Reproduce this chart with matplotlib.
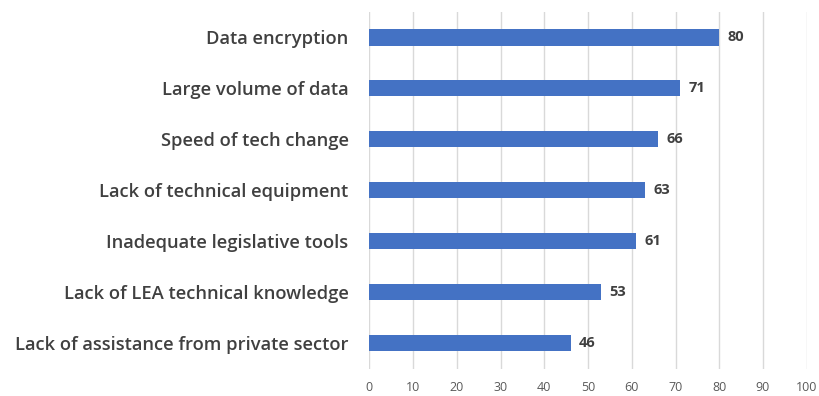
import matplotlib.pyplot as plt

plt.rcParams['font.family'] = ['Open Sans', 'DejaVu Sans']

challenges = [
    "Data encryption",
    "Large volume of data",
    "Speed of tech change",
    "Lack of technical equipment",
    "Inadequate legislative tools",
    "Lack of LEA technical knowledge",
    "Lack of assistance from private sector",
]
scores = [80, 71, 66, 63, 61, 53, 46]
xticks = list(range(0, 101, 10))

text_color = '#404040'
bar_color = '#4472C4'

fig = plt.figure(figsize=(8.19, 3.96), dpi=100)
ax = fig.add_axes([0.451, 0.069, 0.534, 0.901])

pos = list(range(len(challenges)))
bars = ax.barh(pos, scores, height=0.32, color=bar_color, zorder=3)
ax.bar_label(bars, labels=[str(v) for v in scores], padding=6,
             fontsize=10.5, fontweight='bold', color=text_color)

ax.set_yticks(pos)
ax.set_yticklabels(challenges, fontsize=13.2, fontweight='semibold', color=text_color)
ax.set_ylim(len(challenges) - 0.5, -0.5)
ax.set_xlim(0, 100)
ax.set_xticks(xticks)
ax.tick_params(axis='x', labelsize=9, labelcolor='#595959', length=0, pad=9)
ax.tick_params(axis='y', length=0, pad=15)

ax.grid(axis='x', color='#d9d9d9', linewidth=1, zorder=0)
for s in ax.spines.values():
    s.set_visible(False)

fig.savefig('out.png', dpi=100)
